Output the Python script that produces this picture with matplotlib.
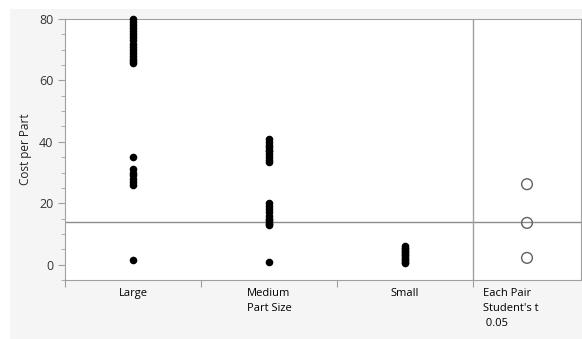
import numpy as np
import matplotlib.pyplot as plt
from matplotlib.patches import Rectangle

plt.rcParams['font.family'] = ['Open Sans', 'DejaVu Sans']

categories = ['Large', 'Medium', 'Small']
large = [80, 79, 78, 77, 76, 75, 74, 73, 72, 71, 70, 69, 68, 67, 66.2, 65.6,
         35, 31, 30, 29.3, 28, 27, 26, 1.5]
medium = [41, 40, 39, 38.2, 37.5, 37, 36, 35, 34.2, 33.4,
          20, 19, 18, 17, 16, 15, 14.5, 14, 13.4, 12.8, 1]
small = [6, 5.5, 5, 4.5, 4, 3.5, 3, 2.5, 2, 1.5, 1, 0.5]
circle_centers = [26.2, 13.6, 2.2]
grand_mean = 13.8

fig = plt.figure(figsize=(5.82, 3.39), dpi=100)
fig.patches.append(Rectangle((10 / 582, 0), 1, 1 - 9 / 339, transform=fig.transFigure,
                             facecolor='#f5f5f5', edgecolor='none', zorder=-10))
ax = fig.add_axes([65 / 582, 1 - 280 / 339, 516 / 582, 261 / 339])
ax.set_facecolor('white')

for i, vals in enumerate([large, medium, small]):
    ax.scatter(np.full(len(vals), i + 0.5), vals, s=30, color='black', zorder=3,
               clip_on=False, linewidths=0)

ax.axhline(grand_mean, color='#8c8c8c', lw=1, zorder=2)
ax.axvline(3, color='#a0a0a0', lw=1, zorder=2)
ax.scatter(np.full(3, 3.397), circle_centers, s=60, facecolors='none',
           edgecolors='#606060', linewidths=1, zorder=4)

ax.set_xlim(0, 516 / 136)
ax.set_ylim(-4.9, 80)
ax.set_xticks([0, 1, 2, 3])
ax.set_xticklabels([])
ax.tick_params(axis='x', length=5, color='#a0a0a0')
ax.set_yticks([0, 20, 40, 60, 80])
ax.set_yticks(np.arange(-5, 80, 5), minor=True)
ax.tick_params(axis='y', which='major', length=5, color='#a0a0a0', labelsize=9,
               labelcolor='#333333')
ax.tick_params(axis='y', which='minor', length=3, color='#a0a0a0')
for s in ax.spines.values():
    s.set_color('#a0a0a0')

ax.set_ylabel('Cost per Part', fontsize=8.5, color='#222222', labelpad=5)

trans = ax.get_xaxis_transform()
fs = 8
ax.text(0.5, -0.03, 'Large', transform=trans, ha='center', va='top', fontsize=fs)
ax.text(1.5, -0.03, 'Medium\nPart Size', transform=trans, ha='center', va='top',
        fontsize=fs, linespacing=1.5)
ax.text(2.5, -0.03, 'Small', transform=trans, ha='center', va='top', fontsize=fs)
ax.text(3.07, -0.03, "Each Pair\nStudent's t\n 0.05", transform=trans, ha='left',
        va='top', fontsize=fs, linespacing=1.5)

fig.savefig('out.png', dpi=100)
